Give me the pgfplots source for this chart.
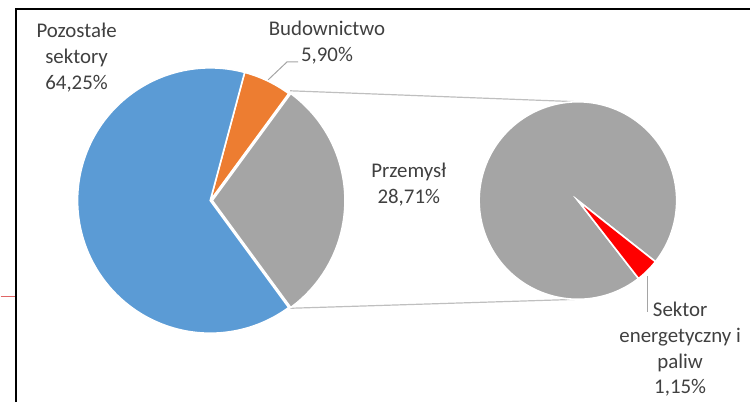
\documentclass[border=0pt]{standalone}
\usepackage{pgfplots}
\usepackage{pgfplotstable}
\pgfplotsset{compat=1.18}
\usepackage{fontspec}
\setmainfont{Carlito}
\definecolor{cblue}{HTML}{5B9BD5}
\definecolor{corange}{HTML}{ED7D31}
\definecolor{cgray}{HTML}{A5A5A5}
\definecolor{cred}{HTML}{FF0000}
\definecolor{ctext}{HTML}{404040}
\definecolor{cline}{HTML}{BFBFBF}
\definecolor{cstray}{HTML}{E06666}

\pgfplotstableread{
sector value
Pozostale 64.25
Budownictwo 5.90
Przemysl 28.71
Energetyka 1.15
}\piedata

\begin{document}
\begin{tikzpicture}
\pgfplotstablegetelem{0}{value}\of\piedata \let\vA\pgfplotsretval
\pgfplotstablegetelem{1}{value}\of\piedata \let\vB\pgfplotsretval
\pgfplotstablegetelem{2}{value}\of\piedata \let\vC\pgfplotsretval
\pgfplotstablegetelem{3}{value}\of\piedata \let\vD\pgfplotsretval
\pgfmathsetmacro{\vOther}{\vC+\vD}
\pgfmathsetmacro{\vTot}{\vA+\vB+\vOther}
\pgfmathsetmacro{\gHalf}{\vOther/\vTot*180}
\pgfmathsetmacro{\oEnd}{\gHalf+\vB/\vTot*360}
\pgfmathsetmacro{\bEnd}{360-\gHalf}
\pgfmathsetmacro{\rSpan}{\vD/\vOther*360}
\pgfmathsetmacro{\rStart}{-45.2-\rSpan/2}
\pgfmathsetmacro{\rEnd}{-45.2+\rSpan/2}
\pgfmathsetmacro{\gEnd}{\rStart+360}
\begin{axis}[
  width=751bp, height=403bp, scale only axis,
  xmin=0, xmax=751, ymin=0, ymax=403,
  hide axis, clip=false,
]
\addplot[draw=none, forget plot] coordinates {(0,0) (751,403)};
% frame and stray line
\addplot[black, line width=2bp] coordinates {(15.5,0) (15.5,394) (751,394)};
\addplot[cstray, line width=1.5bp] coordinates {(0,106) (14.5,106)};
% connector lines
\addplot[cline, line width=1.2bp] coordinates {(290,312) (578.5,301)};
\addplot[cline, line width=1.2bp] coordinates {(290,94) (578.5,103)};
% left pie
\addplot[fill=cgray, draw=white, line width=1.6bp, domain=-\gHalf:\gHalf, samples=60, variable=\t]
  ({212+133*cos(t)},{202+133*sin(t)}) -- (axis cs:212,202) -- cycle;
\addplot[fill=corange, draw=white, line width=1.6bp, domain=\gHalf:\oEnd, samples=20, variable=\t]
  ({210+133*cos(t)},{202+133*sin(t)}) -- (axis cs:210,202) -- cycle;
\addplot[fill=cblue, draw=white, line width=1.6bp, domain=\oEnd:\bEnd, samples=120, variable=\t]
  ({210+133*cos(t)},{202+133*sin(t)}) -- (axis cs:210,202) -- cycle;
% right pie
\addplot[fill=cgray, draw=white, line width=1.6bp, domain=\rEnd:\gEnd, samples=140, variable=\t]
  ({578.5+99*cos(t)},{202+99*sin(t)}) -- (axis cs:578.5,202) -- cycle;
\addplot[fill=cred, draw=white, line width=1.6bp, domain=\rStart:\rEnd, samples=10, variable=\t]
  ({578.5+99*cos(t)},{202+99*sin(t)}) -- (axis cs:578.5,202) -- cycle;
% leader lines
\addplot[cgray, line width=1bp] coordinates {(268,323) (287,341) (298,341)};
\addplot[cgray, line width=1bp] coordinates {(648,126) (648,90)};
% labels
\begin{scope}[every node/.style={font=\fontsize{21}{26}\selectfont, text=ctext, align=center, inner sep=0pt}]
\node at (axis cs:76,345) {Pozostałe\\sektory\\64,25\%};
\node at (axis cs:327,360) {Budownictwo\\5,90\%};
\node at (axis cs:409,218) {Przemysł\\28,71\%};
\node at (axis cs:681,53) {Sektor\\energetyczny i\\paliw\\1,15\%};
\end{scope}
\end{axis}
\end{tikzpicture}
\end{document}
